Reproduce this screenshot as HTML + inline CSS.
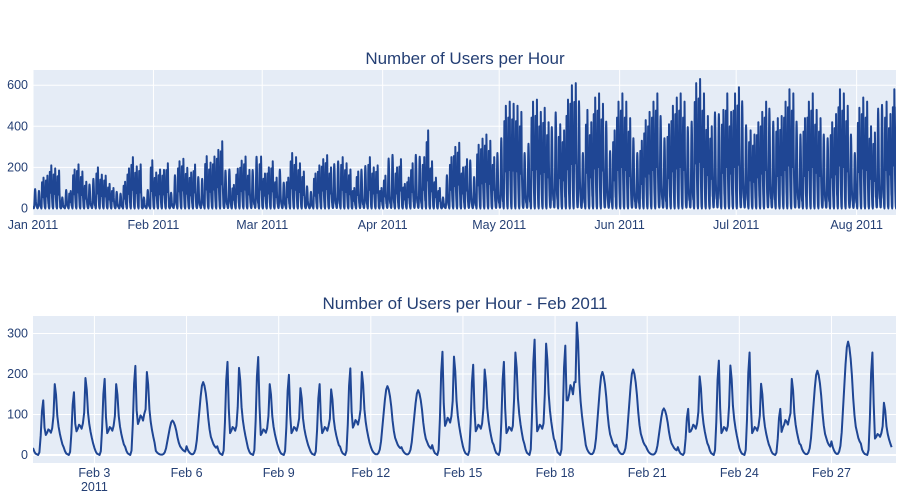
<!DOCTYPE html>
<html><head><meta charset="utf-8">
<style>
html,body{margin:0;padding:0;background:#fff;}
svg{display:block;font-family:"Liberation Sans",Arial,sans-serif;}
.tick{fill:#243f74;font-size:12.5px;}
.title{fill:#243f74;font-size:17px;}
</style></head>
<body>
<svg id="chart" width="900" height="500" viewBox="0 0 900 500"></svg>
<script>
// ---- Top chart data: daily peak users, Jan 1 2011 .. Aug 11 2011 ----
const topStartLabel = "2011-01-01";
const dailyPeak = [
105,95,150,160,210,195,185,
60,100,85,190,215,180,130,
130,160,200,165,160,120,100,
90,80,130,195,250,205,215,
60,100,235,
175,190,188,220,85,180,230,242,198,175,214,170,160,255,223,253,285,327,205,211,115,194,233,253,188,208,280,253,
170,200,230,150,210,140,150,270,250,220,180,120,90,170,210,240,260,200,240,255,250,220,190,100,180,210,230,250,200,210,100,
160,270,290,200,240,120,150,220,290,280,250,380,230,150,100,60,180,250,300,320,200,240,260,170,310,340,360,330,250,300,
380,500,520,510,500,470,300,350,520,530,470,490,420,440,520,410,380,530,600,610,580,300,480,420,540,560,510,470,310,380,520,
560,520,440,380,300,330,430,470,520,560,500,380,410,500,540,560,520,440,470,610,630,560,450,400,520,510,480,560,470,560,
590,580,450,380,360,420,470,520,540,470,440,450,520,580,560,470,400,440,520,560,480,440,400,380,420,460,580,560,500,400,300,
490,540,520,400,370,540,560,520,460,580,580
];
const topXTicks = ["Jan 2011","Feb 2011","Mar 2011","Apr 2011","May 2011","Jun 2011","Jul 2011","Aug 2011"];
const topXTickDays = [0,31,59,90,120,151,181,212];
const topYTicks = [0,200,400,600];

// ---- Bottom chart data: Feb 2011 per-day peaks ----
const febAm  = [135,155,188,220,0,0,230,242,198,175,214,0,0,255,223,230,285,270,0,0,0,114,233,253,114,0,0,253];
const febPm  = [175,190,175,205,85,180,215,175,165,162,205,170,160,243,211,253,275,327,205,211,115,194,221,176,188,208,280,129];
const febMid = [55,65,60,85,0,0,60,55,60,60,75,0,0,80,65,60,65,150,0,0,0,65,60,60,75,0,0,45];
const botXTicks = ["Feb 3","Feb 6","Feb 9","Feb 12","Feb 15","Feb 18","Feb 21","Feb 24","Feb 27"];
const botXTickDays = [2,5,8,11,14,17,20,23,26];
const botYTicks = [0,100,200,300];

const NS = "http://www.w3.org/2000/svg";
const svg = document.getElementById("chart");
function mk(tag, attrs, parent){
  const e = document.createElementNS(NS, tag);
  for (const k in attrs) e.setAttribute(k, attrs[k]);
  (parent||svg).appendChild(e);
  return e;
}
const wkShape = (am, mid, pm) => [.1*pm,.05*pm,.02*pm,.01*pm,0,.05*am,.35*am,.8*am,am,.5*am,.9*mid,mid,1.15*mid,1.1*mid,mid,1.2*mid,.55*pm,pm,.85*pm,.55*pm,.4*pm,.3*pm,.22*pm,.15*pm];
const weShapeF = [.12,.07,.04,.02,.01,.01,.03,.08,.2,.4,.6,.8,.95,1,.95,.85,.7,.5,.35,.25,.2,.15,.12,.1];

function panel(cfg){
  const g = mk("g", {});
  
  
  const bg = mk("rect", {x:cfg.x0, y:cfg.top, width:cfg.x1-cfg.x0, height:cfg.bottom-cfg.top, fill:"#e5ecf6"}, g);
  
  
  const xs = d => cfg.x0 + d*cfg.dayW;
  const ys = v => cfg.yZero - v*cfg.yScale;
  cfg.xTickDays.forEach((d,i)=>{
    const x = xs(d);
    const gl = mk("line", {x1:x, x2:x, y1:cfg.top, y2:cfg.bottom, stroke:"#fff", "stroke-width":1}, g);
    
    
    const t = mk("text", {x:x, y:cfg.bottom+14, "text-anchor":"middle", class:"tick"}, g);
    t.textContent = cfg.xTicks[i];
    
    
  });
  cfg.yTicks.forEach(v=>{
    const y = ys(v);
    const gl = mk("line", {x1:cfg.x0, x2:cfg.x1, y1:y, y2:y, stroke:"#fff", "stroke-width": v===0?2:1}, g);
    
    
    const t = mk("text", {x:cfg.x0-5, y:y+4, "text-anchor":"end", class:"tick"}, g);
    t.textContent = v;
    
    
  });
  let pts = [];
  cfg.hourly.forEach((v,h)=>{ pts.push(xs(h/24).toFixed(2)+","+ys(v).toFixed(2)); });
  const clip = mk("clipPath", {id:cfg.name+"-clip"}, g);
  mk("rect", {x:cfg.x0, y:cfg.top, width:cfg.x1-cfg.x0, height:cfg.bottom-cfg.top}, clip);
  const line = mk("polyline", {points:pts.join(" "), fill:"none", stroke:"#1f4694", "stroke-width":cfg.lw, "stroke-linejoin":"round", "clip-path":"url(#"+cfg.name+"-clip)"}, g);
  
  
  const title = mk("text", {x:cfg.titleX, y:cfg.titleY, "text-anchor":"middle", class:"title"}, g);
  title.textContent = cfg.title;
  
  
  return g;
}

const topHourly = [];
dailyPeak.forEach((p,i)=>{
  const dow = (6 + i) % 7; // Jan 1 2011 = Saturday
  if (dow===0 || dow===6) weShapeF.forEach(f=>topHourly.push(f*p*0.9));
  else wkShape(p*0.85, p*0.4, p).forEach(v=>topHourly.push(v));
});
const botHourly = [];
febPm.forEach((pm,i)=>{
  if (febAm[i]===0) weShapeF.forEach(f=>botHourly.push(f*pm));
  else wkShape(febAm[i], febMid[i], pm).forEach(v=>botHourly.push(v));
});

panel({name:"top-chart", x0:33, x1:896, top:70, bottom:215, dayW:3.885, yZero:208.5, yScale:0.2055,
  xTicks:topXTicks, xTickDays:topXTickDays, yTicks:topYTicks, hourly:topHourly, lw:2,
  title:"Number of Users per Hour", titleX:465, titleY:64});
const bot = panel({name:"bottom-chart", x0:33, x1:896, top:316, bottom:463, dayW:30.71, yZero:455, yScale:0.405,
  xTicks:botXTicks, xTickDays:botXTickDays, yTicks:botYTicks, hourly:botHourly, lw:2,
  title:"Number of Users per Hour - Feb 2011", titleX:465, titleY:309});
const yr = mk("text", {x:33+2*30.71, y:491, "text-anchor":"middle", class:"tick"}, bot);
yr.textContent = "2011";


</script>
</body></html>
